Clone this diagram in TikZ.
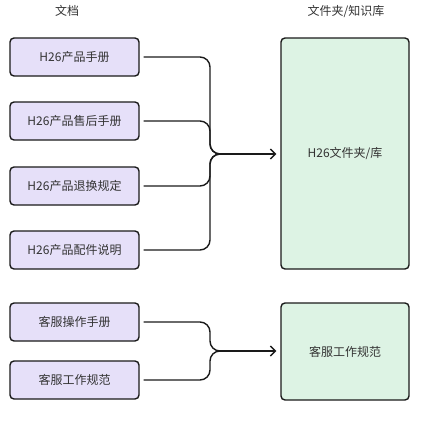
\documentclass[tikz,border=0pt]{standalone}
\usepackage{fontspec}
\setmainfont{Noto Sans CJK SC}
\usetikzlibrary{arrows.meta}

\definecolor{docfill}{HTML}{E6E0F9}
\definecolor{libfill}{HTML}{DDF3E4}
\definecolor{txt}{HTML}{333333}
\definecolor{edge}{HTML}{1A1A1A}

\tikzset{
  docbox/.style={draw=edge, fill=docfill, line width=1.4pt, rounded corners=4pt,
    minimum width=129pt, minimum height=38pt, inner sep=0pt, text=txt,
    font=\fontsize{12}{14}\selectfont},
  libbox/.style={docbox, fill=libfill, minimum width=128pt},
  title/.style={text=txt, font=\fontsize{12}{14}\selectfont},
  link/.style={draw=edge, line width=1.4pt, rounded corners=10pt},
}

\begin{document}
\begin{tikzpicture}[x=1pt, y=-1pt]
        \useasboundingbox (0,0) rectangle (423,426);

        % column titles
        \node[title] (tdoc) at (67,11) {文档};
        \node[title] (tlib) at (346,11) {文件夹/知识库};

        % documents
        \node[docbox] (doc1) at (74.5,57) {H26产品手册};
        \node[docbox] (doc2) at (74.5,121) {H26产品售后手册};
        \node[docbox] (doc3) at (74.5,186) {H26产品退换规定};
        \node[docbox] (doc4) at (74.5,250) {H26产品配件说明};
        \node[docbox] (doc5) at (74.5,322) {客服操作手册};
        \node[docbox] (doc6) at (74.5,380) {客服工作规范};

        % folders
        \node[libbox, minimum height=231pt] (lib) at (345,153.5) {H26文件夹/库};
        \node[libbox, minimum height=97pt] (svc) at (345,351.5) {客服工作规范};

        % brace joints
        \coordinate (j1) at (210,154);
        \coordinate (t1) at (220,154);
        \coordinate (j2) at (210,351);
        \coordinate (t2) at (220,351);

        % first group
        \draw[link] ([xshift=4pt]doc1.east) -| (j1) -- (t1);
        \draw[link] ([xshift=4pt]doc2.east) -| (j1) -- (t1);
        \draw[link] ([xshift=4pt]doc3.east) -| (j1) -- (t1);
        \draw[link] ([xshift=4pt]doc4.east) -| (j1) -- (t1);
        \draw[line width=1.4pt, draw=edge, -{Straight Barb[length=5pt,width=10pt]}, shorten >=4pt] (t1) -- (lib.west |- t1);

        % second group
        \draw[link] ([xshift=4pt]doc5.east) -| (j2) -- (t2);
        \draw[link] ([xshift=4pt]doc6.east) -| (j2) -- (t2);
        \draw[line width=1.4pt, draw=edge, -{Straight Barb[length=5pt,width=10pt]}, shorten >=4pt] (t2) -- (svc.west |- t2);

\end{tikzpicture}
\end{document}
